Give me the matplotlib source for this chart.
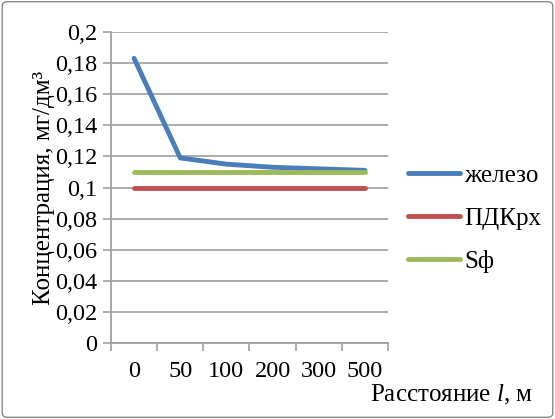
import matplotlib.pyplot as plt
import matplotlib
from matplotlib.patches import FancyBboxPatch
from matplotlib.ticker import FixedLocator

matplotlib.rcParams['font.family'] = ['Liberation Serif', 'DejaVu Serif']
matplotlib.rcParams['font.size'] = 18
matplotlib.rcParams['mathtext.fontset'] = 'custom'
matplotlib.rcParams['mathtext.rm'] = 'Liberation Serif'
matplotlib.rcParams['mathtext.it'] = 'Liberation Serif:italic'

# данные
distances = ['0', '50', '100', '200', '300', '500']
iron = [0.183, 0.119, 0.115, 0.113, 0.112, 0.111]
pdk = [0.1, 0.1, 0.1, 0.1, 0.1, 0.1]
sf = [0.11, 0.11, 0.11, 0.11, 0.11, 0.11]
y_ticks = [0, 0.02, 0.04, 0.06, 0.08, 0.1, 0.12, 0.14, 0.16, 0.18, 0.2]

fig = plt.figure(figsize=(5.55, 4.19), dpi=100)
ax = fig.add_axes([0.2, 0.181, 0.499, 0.743])

x = list(range(len(distances)))
ax.plot(x, iron, color='#4a7ebb', lw=3.5, label='железо', solid_capstyle='round', solid_joinstyle='round')
ax.plot(x, pdk, color='#c0504d', lw=3.5, label='ПДКрх', solid_capstyle='round')
ax.plot(x, sf, color='#9bbb59', lw=3.5, label='Sф', solid_capstyle='round')

ax.set_xlim(-0.5, len(distances) - 0.5)
ax.set_ylim(0, 0.2)
ax.set_yticks(y_ticks)
ax.set_yticklabels([('%g' % v).replace('.', ',') for v in y_ticks])
ax.set_xticks(x)
ax.set_xticklabels(distances)
ax.tick_params(labelsize=17.5)
ax.tick_params(axis='x', which='major', length=0, pad=13)
ax.xaxis.set_minor_locator(FixedLocator([i - 0.5 for i in range(len(distances) + 1)]))
ax.tick_params(axis='x', which='minor', length=6, color='#a0a0a0', width=1.2, direction='out')
ax.tick_params(axis='y', length=6, color='#a0a0a0', width=1.2, direction='out', pad=4)

ax.grid(axis='y', color='#a6a6a6', lw=1.3)
ax.set_axisbelow(True)
for s in ['top', 'right']:
    ax.spines[s].set_visible(False)
for s in ['left', 'bottom']:
    ax.spines[s].set_color('#a0a0a0')
    ax.spines[s].set_linewidth(1.3)

ax.set_ylabel('Концентрация, мг/дм³', labelpad=0)
fig.text(0.96, 0.057, 'Расстояние $\\it{l}$, м', ha='right', va='center')

ax.legend(loc='center left', bbox_to_anchor=(1.0, 0.40), frameon=False,
          handlelength=2.1, labelspacing=0.8, handletextpad=0.15, borderaxespad=0.4)

# рамка
fig.patches.append(FancyBboxPatch((0.004, 0.004), 0.992, 0.992, boxstyle='round,pad=0,rounding_size=0.01',
                                  transform=fig.transFigure, fill=False, ec='#888888', lw=1))

fig.savefig('out.png', dpi=100)
